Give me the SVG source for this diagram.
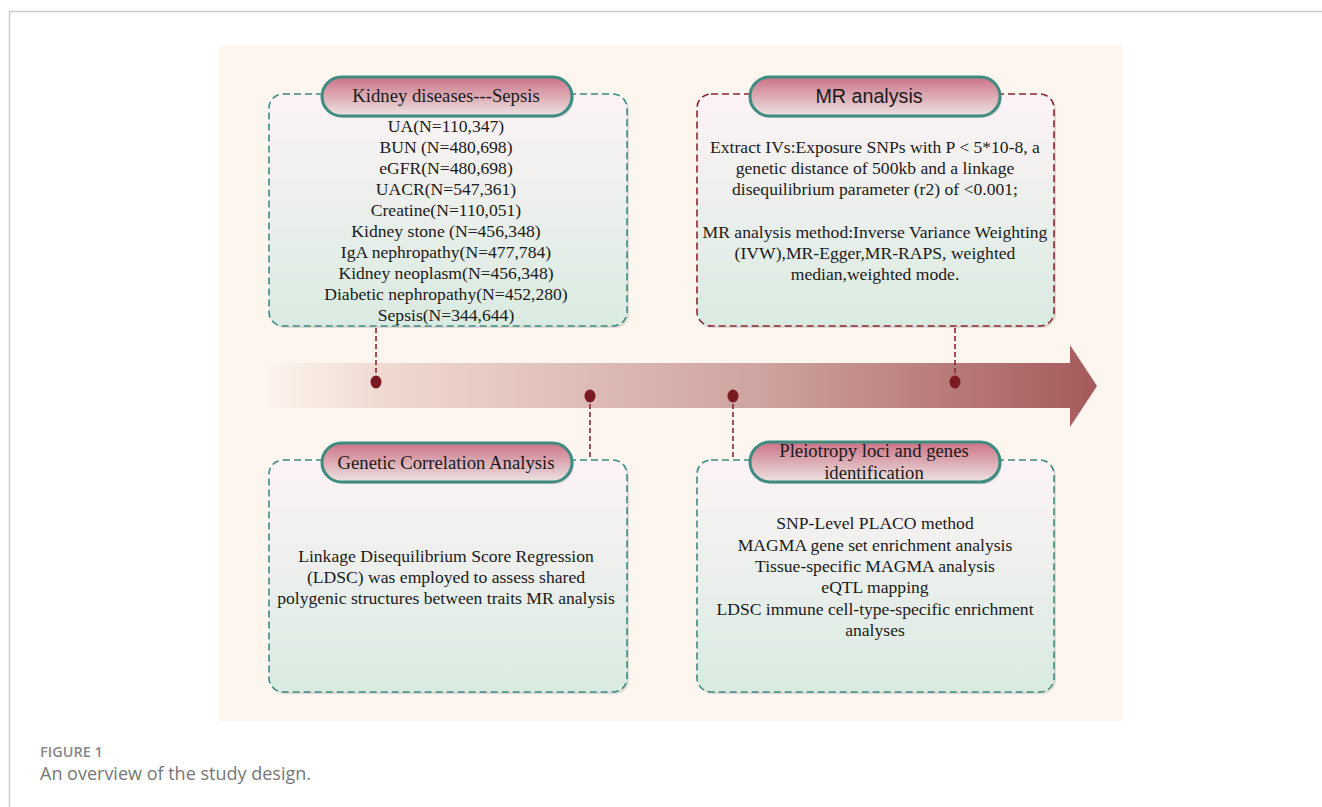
<svg xmlns="http://www.w3.org/2000/svg" width="1322" height="807" viewBox="0 0 1322 807">
<defs>
<linearGradient id="boxFill" x1="0" y1="0" x2="0" y2="1">
<stop offset="0" stop-color="#fdf3f6"/>
<stop offset="1" stop-color="#d9ebe1"/>
</linearGradient>
<linearGradient id="pillFill" x1="0" y1="0" x2="0" y2="1">
<stop offset="0" stop-color="#cc7286"/>
<stop offset="1" stop-color="#ece4e2"/>
</linearGradient>
<linearGradient id="arrowFill" x1="0" y1="0" x2="1" y2="0">
<stop offset="0" stop-color="#fdf6ef"/>
<stop offset="0.15" stop-color="#efd9d1"/>
<stop offset="0.6" stop-color="#cfa39f"/>
<stop offset="1" stop-color="#a55a5b"/>
</linearGradient>
<style>
.box{fill:url(#boxFill);stroke-width:1.6;stroke-dasharray:7 4}
.teal{stroke:#3e8b82}
.red{stroke:#8a2631}
.shadow{fill:#000;opacity:0.12}
.pill{fill:url(#pillFill);stroke:#3e8b82;stroke-width:3}
.t{font-family:"Liberation Serif",serif;font-size:17.6px;fill:#1a1a1a;text-anchor:middle}
.h{font-family:"Liberation Serif",serif;font-size:18.7px;fill:#1a1a1a;text-anchor:middle}
.hs{font-family:"Liberation Sans",sans-serif;font-size:19.7px;fill:#1a1a1a;text-anchor:middle}
.conn{stroke:#8a2631;stroke-width:1.6;stroke-dasharray:5 3;fill:none}
.dot{fill:#7a1a22}
</style>
</defs>
<rect x="0" y="0" width="1322" height="807" fill="#ffffff"/>
<path d="M9.5 807 V11.5 H1322" fill="none" stroke="#cccccc" stroke-width="1.5"/>
<rect x="219" y="46" width="903" height="675" fill="#fdf6ef"/>

<g id="arrow">
<path d="M260 363 H1070 V345 L1097 386 L1070 427 V408 H260 Z" fill="url(#arrowFill)"/>
</g>

<g id="connectors">
<line class="conn" x1="376" y1="328" x2="376" y2="382"/>
<line class="conn" x1="955" y1="328" x2="955" y2="382"/>
<line class="conn" x1="590" y1="396" x2="590" y2="460"/>
<line class="conn" x1="733" y1="396" x2="733" y2="460"/>
<ellipse class="dot" cx="376" cy="382" rx="5.5" ry="6.5"/>
<ellipse class="dot" cx="955" cy="382" rx="5.5" ry="6.5"/>
<ellipse class="dot" cx="590" cy="396" rx="5.5" ry="6.5"/>
<ellipse class="dot" cx="733" cy="396" rx="5.5" ry="6.5"/>
</g>

<g id="kidney">
<rect x="271" y="96" width="358" height="232" rx="14" class="shadow"/>
<rect x="269" y="94" width="358" height="232" rx="14" class="box teal"/>
<rect x="324" y="79" width="250" height="39" rx="19.5" class="shadow"/>
<rect x="322" y="77" width="250" height="39" rx="19.5" class="pill"/>
<text class="h" x="446" y="102">Kidney diseases---Sepsis</text>
<text class="t" x="446" y="132">UA(N=110,347)</text>
<text class="t" x="446" y="153">BUN (N=480,698)</text>
<text class="t" x="446" y="174">eGFR(N=480,698)</text>
<text class="t" x="446" y="195">UACR(N=547,361)</text>
<text class="t" x="446" y="216">Creatine(N=110,051)</text>
<text class="t" x="446" y="237">Kidney stone (N=456,348)</text>
<text class="t" x="446" y="258">IgA nephropathy(N=477,784)</text>
<text class="t" x="446" y="279">Kidney neoplasm(N=456,348)</text>
<text class="t" x="446" y="300">Diabetic nephropathy(N=452,280)</text>
<text class="t" x="446" y="321">Sepsis(N=344,644)</text>
</g>

<g id="mr">
<rect x="699" y="96" width="357" height="232" rx="14" class="shadow"/>
<rect x="697" y="94" width="357" height="232" rx="14" class="box red"/>
<rect x="752" y="79" width="250" height="39" rx="19.5" class="shadow"/>
<rect x="750" y="77" width="250" height="39" rx="19.5" class="pill"/>
<text class="hs" x="869" y="103">MR analysis</text>
<text class="t" x="875" y="153">Extract IVs:Exposure SNPs with P &lt; 5*10-8, a</text>
<text class="t" x="875" y="174">genetic distance of 500kb and a linkage</text>
<text class="t" x="875" y="195">disequilibrium parameter (r2) of &lt;0.001;</text>
<text class="t" x="875" y="238">MR analysis method:Inverse Variance Weighting</text>
<text class="t" x="875" y="259">(IVW),MR-Egger,MR-RAPS, weighted</text>
<text class="t" x="875" y="280">median,weighted mode.</text>
</g>

<g id="genetic">
<rect x="271" y="462" width="358" height="232" rx="14" class="shadow"/>
<rect x="269" y="460" width="358" height="232" rx="14" class="box teal"/>
<rect x="324" y="445" width="250" height="39" rx="19.5" class="shadow"/>
<rect x="322" y="443" width="250" height="39" rx="19.5" class="pill"/>
<text class="h" x="446" y="469">Genetic Correlation Analysis</text>
<text class="t" x="446" y="562">Linkage Disequilibrium Score Regression</text>
<text class="t" x="446" y="583">(LDSC) was employed to assess shared</text>
<text class="t" x="446" y="604">polygenic structures between traits MR analysis</text>
</g>

<g id="pleiotropy">
<rect x="699" y="462" width="357" height="232" rx="14" class="shadow"/>
<rect x="697" y="460" width="357" height="232" rx="14" class="box teal"/>
<rect x="752" y="444" width="250" height="40" rx="20" class="shadow"/>
<rect x="750" y="442" width="250" height="40" rx="20" class="pill"/>
<text class="h" x="874" y="457">Pleiotropy loci and genes</text>
<text class="h" x="874" y="479">identification</text>
<text class="t" x="875" y="529">SNP-Level PLACO method</text>
<text class="t" x="875" y="551">MAGMA gene set enrichment analysis</text>
<text class="t" x="875" y="572">Tissue-specific MAGMA analysis</text>
<text class="t" x="875" y="593">eQTL mapping</text>
<text class="t" x="875" y="615">LDSC immune cell-type-specific enrichment</text>
<text class="t" x="875" y="636">analyses</text>
</g>

<g id="caption">
<text x="40" y="757" font-family="'Open Sans',sans-serif" font-size="14.5" font-weight="600" fill="#888888">FIGURE 1</text>
<text x="40" y="780" font-family="'Open Sans',sans-serif" font-size="18" fill="#777777">An overview of the study design.</text>
</g>
</svg>
